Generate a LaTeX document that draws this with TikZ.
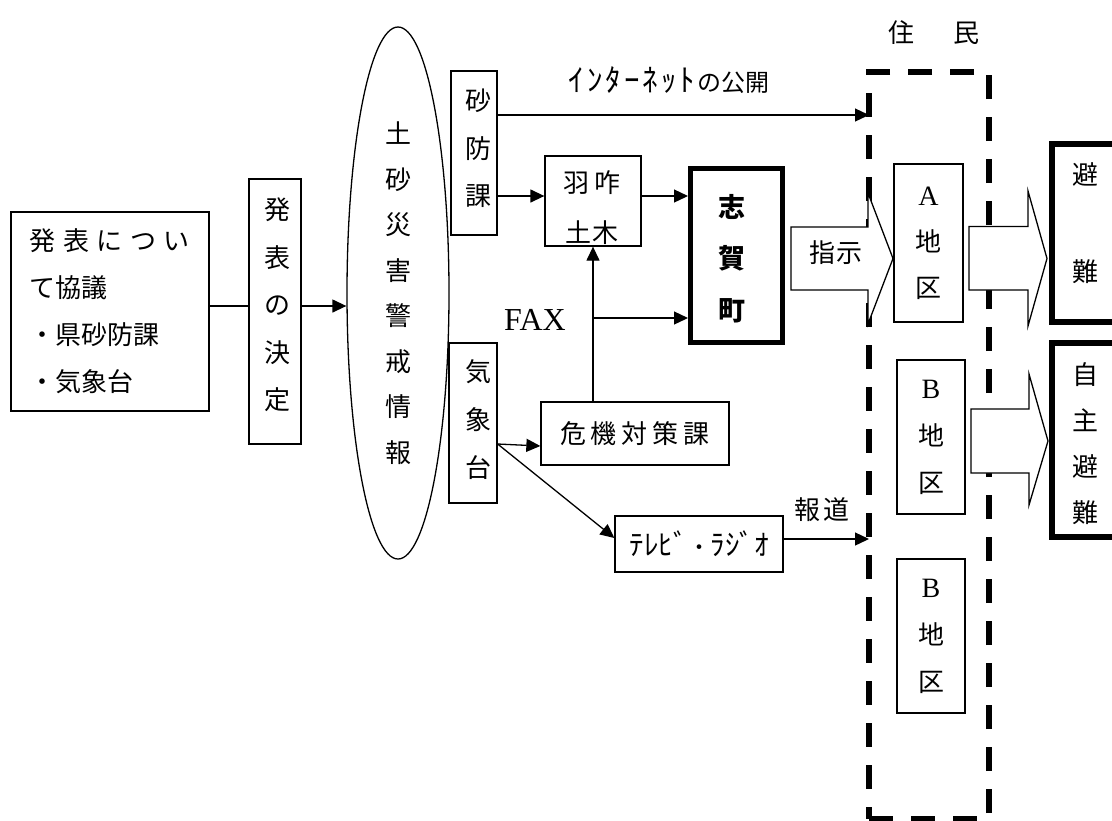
\documentclass[tikz,border=0pt]{standalone}
\usepackage{fontspec}
\setmainfont{Liberation Serif}
\newfontfamily\cjk{Noto Sans CJK JP}
\usetikzlibrary{shapes.geometric,arrows.meta}
\newcommand\jfs[2]{\cjk\fontsize{#1}{#2}\selectfont}
\newcommand\latn[1]{{\rmfamily\fontsize{28}{28}\selectfont #1}}
\tikzset{
  box/.style={draw, line width=1.3pt, inner sep=0pt, align=center},
  heavybox/.style={box, line width=5pt},
  vtxt/.style={inner sep=0pt, align=center},
  ln/.style={line width=1.3pt},
  arr/.style={line width=1.3pt, -{Triangle[length=14pt,width=13pt]}},
  bigarrow/.style={draw, line width=1.3pt, fill=white, line join=miter},
}
\begin{document}
\begin{tikzpicture}[x=1pt,y=-1pt]
\fill[white] (0,0) rectangle (1112,820);
\useasboundingbox (0,0) rectangle (1112,820);

% residents area
\node[draw, line width=5.5pt, dash pattern=on 24pt off 18pt, outer sep=0pt, inner sep=0pt,
      minimum width=120pt, minimum height=747pt] (jumin) at (929,445.5) {};
\node[font=\jfs{26}{26}, inner sep=0pt] (juminlabel) at (933.5,33) {住\hspace{39pt}民};

% left boxes
\node[box, minimum width=198pt, minimum height=199pt, align=left, font=\jfs{26}{47}] (kyogi) at (110,311.5)
  {発\kern7.5pt 表\kern7.5pt に\kern7.5pt つ\kern7.5pt い\\て協議\\・県砂防課\\・気象台};
\node[box, minimum width=52pt, minimum height=265pt] (kettei) at (275,311.5) {};
\node[vtxt, font=\jfs{26}{47.5}] (ketteitext) at (277,305) {発\\表\\の\\決\\定};

\node[draw, ellipse, line width=1.3pt, inner sep=0pt, minimum width=102pt, minimum height=532pt,
      align=center, font=\jfs{26}{45.5}] (keihou) at (398,293) {土\\砂\\災\\害\\警\\戒\\情\\報};

\node[box, minimum width=46pt, minimum height=164pt] (sabo) at (474,153) {};
\node[vtxt, font=\jfs{26}{47.5}] (sabotext) at (478,148.5) {砂\\防\\課};
\node[box, minimum width=48pt, minimum height=160pt] (kis) at (473,423) {};
\node[vtxt, font=\jfs{26}{48}] (kistext) at (478,420) {気\\象\\台};

\node[box, minimum width=96pt, minimum height=90pt] (hakui) at (593,201) {};
\node[vtxt, font=\jfs{26}{50}] (hakuitext) at (592,208) {羽\kern6pt 咋\\土\kern1pt 木};

\node[heavybox, minimum width=92pt, minimum height=174pt] (shiga) at (736.5,255.5) {};
\node[vtxt, font=\jfs{27}{51.5}\bfseries] (shigatext) at (732,258.5) {志\\賀\\町};

\node[box, minimum width=188pt, minimum height=63pt, font=\jfs{26}{26}] (kiki) at (635,433.5)
  {危\kern5pt 機\kern5pt 対\kern5pt 策\kern5pt 課};
\node[box, minimum width=168pt, minimum height=56pt, font=\jfs{29}{29}] (tv) at (699,544)
  {ﾃﾚﾋﾞ\kern1pt {\fontsize{22}{22}\selectfont ・}\kern0pt ﾗｼﾞｵ};

% areas
\node[box, fill=white, minimum width=69pt, minimum height=158pt, font=\jfs{26}{46}] (areaA) at (928.5,243)
  {\latn{A}\\地\\区};
\node[box, fill=white, minimum width=68pt, minimum height=154pt, font=\jfs{26}{47}] (areaB) at (931,437)
  {\latn{B}\\地\\区};
\node[box, fill=white, minimum width=68pt, minimum height=154pt, font=\jfs{26}{47}] (areaC) at (931,636)
  {\latn{B}\\地\\区};

% evacuation boxes
\node[box, line width=6pt, minimum width=78pt, minimum height=177.5pt] (hinan) at (1091,233) {};
\node[vtxt, font=\jfs{26}{97}] (hinantext) at (1085,223.5) {避\\難};
\node[box, line width=6pt, minimum width=78pt, minimum height=194pt] (jishu) at (1091,440) {};
\node[vtxt, font=\jfs{26}{46}] (jishutext) at (1085,444) {自\\主\\避\\難};

% labels
\node[font=\jfs{24}{24}, inner sep=0pt] (netlabel) at (669,80)
  {{\fontsize{31}{31}\selectfont ｲ\kern3pt ﾝ\kern3pt ﾀ\kern3pt ｰ\kern3pt ﾈ\kern3pt ｯ\kern3pt ﾄ}\kern2pt の公開};
\node[font=\rmfamily\fontsize{32}{32}\selectfont, inner sep=0pt] (faxlabel) at (535,320) {FAX};
\node[font=\jfs{26}{26}, inner sep=0pt] (houdou) at (822,510) {報\kern4pt 道};

% connectors
\draw[ln] ([yshift=5.5pt]kyogi.east) -- ([yshift=5.5pt]kyogi.east -| kettei.west);
\draw[arr] ([yshift=5.5pt]kettei.east) -- ([yshift=5.5pt]kettei.east -| keihou.west);
\draw[arr] ([yshift=38pt]sabo.east) -- ([yshift=38pt]sabo.east -| jumin.west);
\draw[arr] ([yshift=-43pt]sabo.east) -- ([yshift=-43pt]sabo.east -| hakui.west);
\draw[arr] ([yshift=5pt]hakui.east) -- ([yshift=5pt]hakui.east -| shiga.west);
\draw[arr] (kiki.north -| hakui.south) -- (hakui.south);
\coordinate (faxbr) at (593,318);
\draw[arr] (faxbr) -- (faxbr -| shiga.west);
\draw[arr] ([yshift=-21pt]kis.east) -- ([yshift=-12.5pt]kiki.west);
\draw[arr] ([yshift=-21pt]kis.east) -- ([yshift=6pt]tv.west);
\draw[arr] ([yshift=5pt]tv.east) -- ([yshift=5pt]tv.east -| jumin.west);

% big block arrows
\draw[bigarrow] (791,227) -- (868,227) -- (868,193) -- (893,258.5) -- (868,324) -- (868,290) -- (791,290) -- cycle;
\node[font=\jfs{26}{26}, inner sep=0pt] (shiji) at (836,253) {指\kern1.5pt 示};
\draw[bigarrow] (969,226.5) -- (1028,226.5) -- (1028,191) -- (1047,258.5) -- (1028,326) -- (1028,290) -- (969,290) -- cycle;
\draw[bigarrow] (971,409) -- (1029,409) -- (1029,374) -- (1048,441) -- (1029,505) -- (1029,473) -- (971,473) -- cycle;
\end{tikzpicture}
\end{document}
